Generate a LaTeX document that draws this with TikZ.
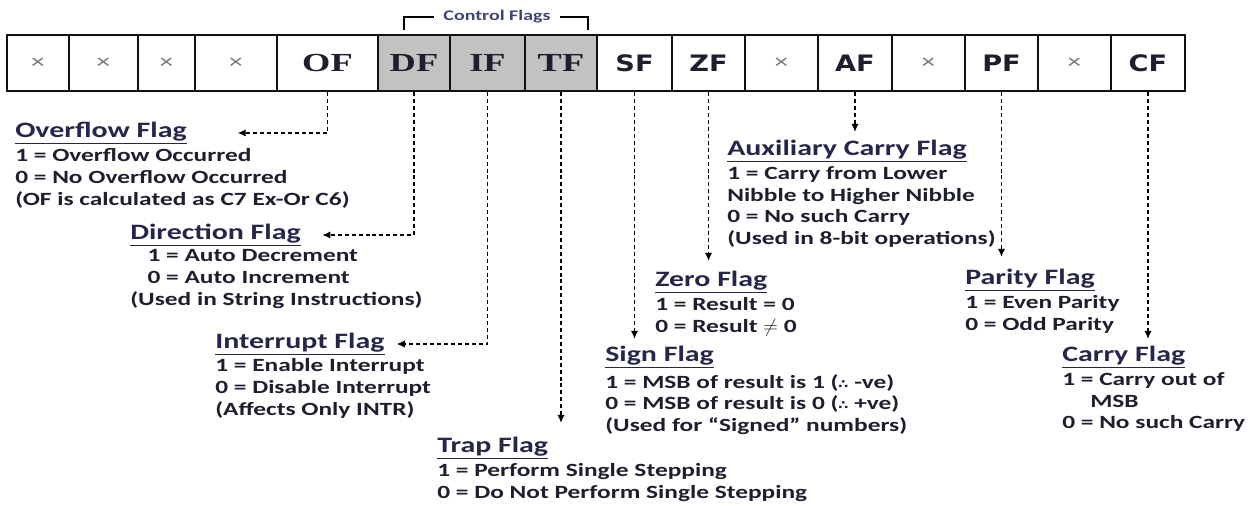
\documentclass[tikz,border=0pt]{standalone}
\usepackage{fontspec}
\setmainfont{Carlito}[FakeStretch=1.36]
\newfontfamily\cellserif{Liberation Serif}[FakeStretch=1.4]
\newfontfamily\cellsans{DejaVu Sans}[FakeStretch=1.2]
\usetikzlibrary{arrows.meta, calc}
\definecolor{cInk}{HTML}{1d1f2e}
\definecolor{cHead}{HTML}{25264a}
\definecolor{cCtl}{HTML}{3f4477}
\definecolor{cGrid}{HTML}{111111}
\definecolor{cShade}{HTML}{c2c2c2}
\definecolor{cMark}{HTML}{74747a}
\tikzset{
  >={Latex[length=6pt,width=5.5pt]},
  cell/.style={draw=cGrid, line width=1.9pt, minimum height=42pt, inner sep=0pt, text=cInk},
  rsvd/.style={cell, font=\fontsize{15}{15}\selectfont, text=cMark},
  flagcell/.style={cell, font=\cellserif\bfseries\fontsize{19.5}{19.5}\selectfont},
  ctlcell/.style={flagcell, fill=cShade},
  statcell/.style={cell, font=\cellsans\bfseries\fontsize{17}{17}\selectfont},
  flagtitle/.style={anchor=west, inner sep=0pt, font=\bfseries\fontsize{16.5}{16.5}\selectfont, text=cHead},
  flagbody/.style={anchor=north west, inner sep=0pt, align=left,
      font=\bfseries\fontsize{14}{16.4}\selectfont, text=cInk},
  flagline/.style={->, draw=black, line width=0.9pt, dash pattern=on 3pt off 2.2pt},
}
\newcommand{\ftitle}[1]{\underline{#1}}
\newcommand{\thus}{{\cellsans\fontsize{9}{9}\selectfont ∴}}

\begin{document}
\begin{tikzpicture}[x=0.75pt, y=-0.75pt]
\useasboundingbox (0,0) rectangle (1254,506);

% ===================== flag register (bit 15 ... bit 0) =====================
\foreach \nm/\l/\r/\sty/\txt in {
    r15/7/69/rsvd/×, r14/69/138/rsvd/×, r13/138/195/rsvd/×, r12/195/277/rsvd/×,
    cOF/277/378/flagcell/OF, cDF/378/450/ctlcell/DF, cIF/450/525/ctlcell/IF,
    cTF/525/597/ctlcell/TF, cSF/597/672/statcell/SF, cZF/672/745/statcell/ZF,
    r5/745/818/rsvd/×, cAF/818/892/statcell/AF, r3/892/965/rsvd/×,
    cPF/965/1038/statcell/PF, r1/1038/1111/rsvd/×, cCF/1111/1185/statcell/CF}
  \node[\sty, minimum width={(\r-\l)*0.75pt}] (\nm) at ({(\l+\r)/2},63) {\txt};

% control flags bracket
\node[font=\bfseries\fontsize{11}{11}\selectfont, text=cCtl, inner xsep=7pt, inner ysep=1pt] (ctl) at (497,17) {Control Flags};
\coordinate (ctlL) at (404,30);
\coordinate (ctlR) at (588,30);
\draw[black, line width=1pt] (ctlL) |- (ctl.west);
\draw[black, line width=1pt] (ctl.east) -| (ctlR);

% ===================== control flags =====================
\node[flagtitle] (tOF) at (15,133) {\ftitle{Overflow Flag}};
\node[flagbody] (bOF) at (15,148)
     {1 = Overflow Occurred\\ 0 = No Overflow Occurred\\ (OF is calculated as C7 Ex-Or C6)};

\node[flagtitle] (tDF) at (130,235) {\ftitle{Direction Flag}};
\node[flagbody] (bDF) at (130,249)
     {\hspace*{13pt}1 = Auto Decrement\\ \hspace*{13pt}0 = Auto Increment\\ (Used in String Instructions)};

\node[flagtitle] (tIF) at (215,344) {\ftitle{Interrupt Flag}};
\node[flagbody] (bIF) at (215,358)
     {1 = Enable Interrupt\\ 0 = Disable Interrupt\\ (Affects Only INTR)};

\node[flagtitle] (tTF) at (437,448) {\ftitle{Trap Flag}};
\node[flagbody] (bTF) at (437,463)
     {1 = Perform Single Stepping\\ 0 = Do Not Perform Single Stepping};

% ===================== status flags =====================
\node[flagtitle] (tSF) at (605,357) {\ftitle{Sign Flag}};
\node[flagbody] (bSF) at (605,374)
     {1 = MSB of result is 1 (\thus\ -ve)\\ 0 = MSB of result is 0 (\thus\ +ve)\\ (Used for “Signed” numbers)};

\node[flagtitle] (tZF) at (655,282) {\ftitle{Zero Flag}};
\node[flagbody] (bZF) at (655,297)
     {1 = Result = 0\\ 0 = Result $\neq$ 0};

\node[flagtitle] (tAF) at (727,151) {\ftitle{Auxiliary Carry Flag}};
\node[flagbody] (bAF) at (727,166)
     {1 = Carry from Lower\\ Nibble to Higher Nibble\\ 0 = No such Carry\\ (Used in 8-bit operations)};

\node[flagtitle] (tPF) at (965,280) {\ftitle{Parity Flag}};
\node[flagbody] (bPF) at (965,295)
     {1 = Even Parity\\ 0 = Odd Parity};

\node[flagtitle] (tCF) at (1062,357) {\ftitle{Carry Flag}};
\node[flagbody] (bCF) at (1062,372)
     {1 = Carry out of\\ \hspace*{21pt}MSB\\ 0 = No such Carry};

% ===================== dashed leaders =====================
\draw[flagline] (cOF.south) |- ([xshift=38pt]tOF.east);
\draw[flagline] (cDF.south) |- ([xshift=16pt]tDF.east);
\draw[flagline] (cIF.south) |- ([xshift=9pt]tIF.east);
\draw[flagline] (cTF.south) -- ($(cTF.south |- tTF.north)+(0,-14)$);
\draw[flagline] (cSF.south) -- ($(cSF.south |- tSF.north)+(0,-7)$);
\draw[flagline] (cZF.south) -- ($(cZF.south |- tZF.north)+(0,-10)$);
\draw[flagline] (cAF.south) -- ($(cAF.south |- tAF.north)+(0,-8)$);
\draw[flagline] (cPF.south) -- ($(cPF.south |- tPF.north)+(0,-12)$);
\draw[flagline] (cCF.south) -- ($(cCF.south |- tCF.north)+(0,-7)$);

\end{tikzpicture}
\end{document}
